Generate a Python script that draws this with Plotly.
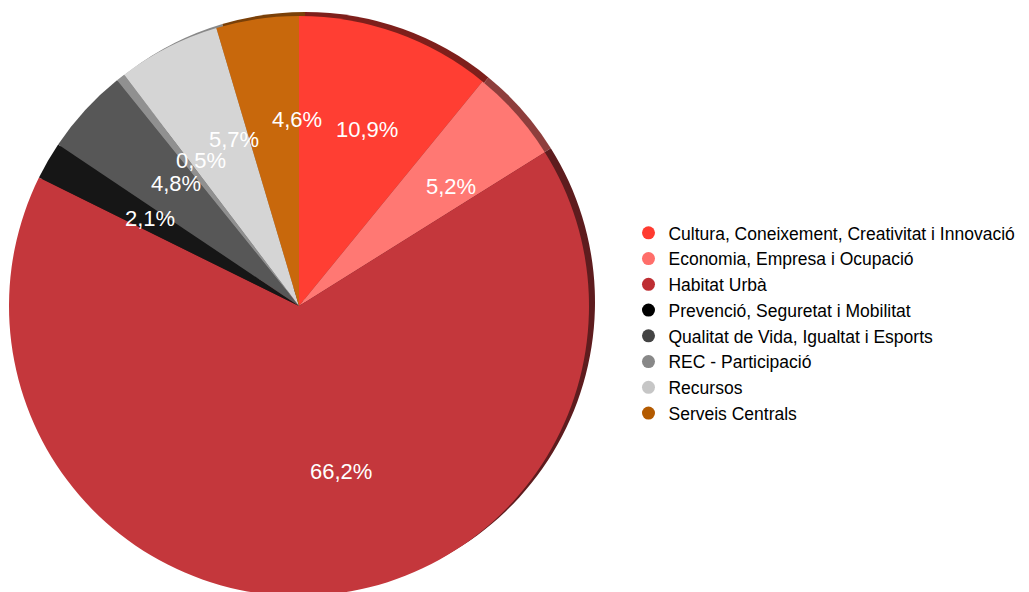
import math
import plotly.graph_objects as go

categories = [
    "Cultura, Coneixement, Creativitat i Innovació",
    "Economia, Empresa i Ocupació",
    "Habitat Urbà",
    "Prevenció, Seguretat i Mobilitat",
    "Qualitat de Vida, Igualtat i Esports",
    "REC - Participació",
    "Recursos",
    "Serveis Centrals",
]
values = [10.9, 5.2, 66.2, 2.1, 4.8, 0.5, 5.7, 4.6]
slice_colors = ["#FF3E33", "#FF7873", "#C4373C", "#161616", "#575757", "#909090", "#D5D5D5", "#C8680C"]
rim_colors = ["#7E1F1B", "#8E3E3C", "#5E1C1E", "#111111", "#333333", "#555555", "#888888", "#7A4008"]
legend_colors = ["#FF3B30", "#FF6E6A", "#BE2E33", "#000000", "#444444", "#888888", "#C6C6C6", "#B35A00"]

W, H = 1029, 592
cx, cy, R = 291, 298, 290  # pie placement in layout pixels
rim_dx, rim_dy = 6, -4      # offset of the 3D rim


def dom(x0, y0):
    return dict(x=[max(0, (x0 - R) / W), min(1, (x0 + R) / W)],
                y=[max(0, 1 - (y0 + R) / H), min(1, 1 - (y0 - R) / H)])


fig = go.Figure()
# dark rim behind (3D edge effect)
fig.add_trace(go.Pie(
    labels=categories, values=values, sort=False, direction="clockwise", rotation=0,
    marker=dict(colors=rim_colors, line=dict(width=0)),
    textinfo="none", hoverinfo="skip", showlegend=False,
    domain=dom(cx + rim_dx, cy + rim_dy),
))
fig.add_trace(go.Pie(
    labels=categories, values=values, sort=False, direction="clockwise", rotation=0,
    marker=dict(colors=slice_colors, line=dict(width=0)),
    textinfo="none", hoverinfo="label+percent", showlegend=False,
    domain=dom(cx, cy),
))

# legend entries with circle markers
for name, col in zip(categories, legend_colors):
    fig.add_trace(go.Scatter(x=[None], y=[None], mode="markers", name=name,
                             marker=dict(symbol="circle", size=13, color=col)))

# percentage labels placed along each slice's mid-angle
total = sum(values)
cum = 0.0
annotations = []
for v in values:
    mid = (cum + v / 2) / total * 2 * math.pi
    cum += v
    rf = 0.62 if v > 50 else 0.70
    px = cx + rf * R * math.sin(mid)
    py = cy - rf * R * math.cos(mid)
    annotations.append(dict(
        x=px / W, y=1 - py / H, xref="paper", yref="paper", showarrow=False,
        text=f"{v:.1f}%".replace(".", ","),
        font=dict(family="Liberation Sans, Arial, Helvetica", size=22, color="white"),
    ))

fig.update_layout(
    width=W, height=H, margin=dict(l=0, r=0, t=0, b=0),
    paper_bgcolor="white", plot_bgcolor="white",
    xaxis=dict(visible=False), yaxis=dict(visible=False),
    annotations=annotations,
    legend=dict(x=0.603, y=0.468, xanchor="left", yanchor="middle",
                font=dict(family="Liberation Sans, Arial, Helvetica", size=17.5, color="black"),
                itemwidth=30, tracegroupgap=0),
)
fig.write_html("out.html")
